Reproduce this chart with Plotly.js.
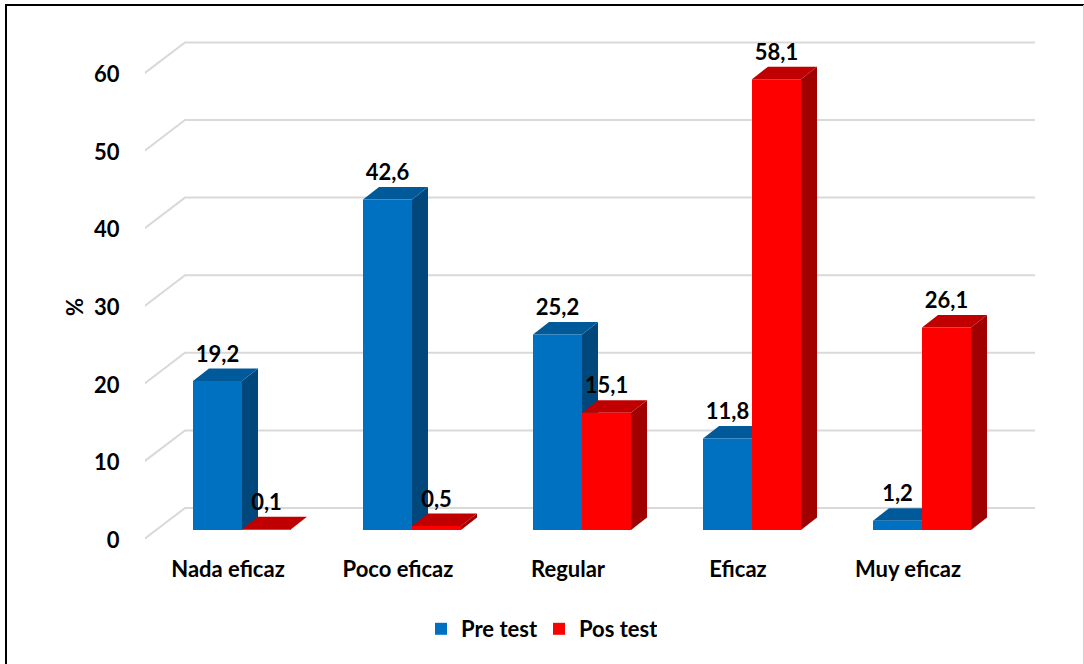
<!DOCTYPE html>
<html><head><meta charset="utf-8">
<script src="https://cdn.plot.ly/plotly-3.0.1.min.js"></script>
<style>html,body{margin:0;padding:0;background:#fff}#c{width:1084px;height:664px}</style>
</head><body><div id="c"></div>
<script>
var categories = ["Nada eficaz","Poco eficaz","Regular","Eficaz","Muy eficaz"];
var preTest = [19.2,42.6,25.2,11.8,1.2];
var posTest = [0.1,0.5,15.1,58.1,26.1];
var axisTicks = [0,10,20,30,40,50,60];
var fmt = function(v){return v.toFixed(1).replace('.',',');};

var W=1084,H=664, L=145,R=1035,T=20,B=545;
var pxPerCat=170, pxPerUnit=7.76, originX=242, originY=530;
var xr=[(L-originX)/pxPerCat,(R-originX)/pxPerCat];
var yr=[(originY-B)/pxPerUnit,(originY-T)/pxPerUnit];
var barW=49/pxPerCat, dx=16/pxPerCat, dy=12.5/pxPerUnit;
var floorFront=-10/pxPerUnit, wallBack=22/pxPerUnit, wallDx=40/pxPerCat;
var idx=categories.map(function(_,i){return i;});
var font='Lato, Carlito, "Open Sans", sans-serif';
var boldFont={family:font,size:22,color:'#000',weight:700};

var traces=[];
axisTicks.forEach(function(t){
  traces.push({type:'scatter',mode:'lines',x:[xr[0]-2/pxPerCat,xr[0]+wallDx,xr[1]],
    y:[t+floorFront,t+wallBack,t+wallBack],line:{color:'#d9d9d9',width:2},
    showlegend:false,hoverinfo:'skip',cliponaxis:false});
});
function faces(vals,xl,sideColor,topColor){
  vals.forEach(function(v,i){
    var a=i+xl,b=a+barW;
    traces.push({type:'scatter',mode:'lines',fill:'toself',fillcolor:sideColor,line:{width:0,color:sideColor},
      x:[b,b+dx,b+dx,b,b],y:[0,dy,v+dy,v,0],showlegend:false,hoverinfo:'skip'});
    traces.push({type:'scatter',mode:'lines',fill:'toself',fillcolor:topColor,line:{width:0,color:topColor},
      x:[a,a+dx,b+dx,b,a],y:[v,v+dy,v+dy,v,v],showlegend:false,hoverinfo:'skip'});
  });
}
faces(preTest,-barW,'#00487c','#005a9a');
faces(posTest,0,'#a00000','#c00000');
traces.push({type:'bar',name:'Pre test',x:idx,y:preTest,xaxis:'x2',yaxis:'y2',marker:{color:'#0070c0'},hoverinfo:'skip'});
traces.push({type:'bar',name:'Pos test',x:idx,y:posTest,xaxis:'x2',yaxis:'y2',marker:{color:'#ff0000'},hoverinfo:'skip'});
var lift=25/pxPerUnit;
traces.push({type:'scatter',mode:'text',xaxis:'x2',yaxis:'y2',showlegend:false,hoverinfo:'skip',cliponaxis:false,
  x:idx.map(function(i){return i-barW/2;}).concat(idx.map(function(i){return i+barW/2;})),
  y:preTest.concat(posTest).map(function(v){return v+lift;}),
  text:preTest.concat(posTest).map(fmt),textposition:'middle center',
  textfont:boldFont});

var layout={
  width:W,height:H,paper_bgcolor:'#fff',plot_bgcolor:'rgba(0,0,0,0)',
  margin:{l:L,r:W-R,t:T,b:H-B,pad:0},
  barmode:'group',bargap:1-2*barW,bargroupgap:0,
  font:{family:font,color:'#000'},
  xaxis:{range:xr,type:'linear',showgrid:false,zeroline:false,showline:false,
    tickmode:'array',tickvals:idx.map(function(i){return i-14/pxPerCat;}),ticktext:categories,
    ticks:'outside',ticklen:5,tickcolor:'rgba(0,0,0,0)',tickfont:boldFont},
  yaxis:{range:yr,showgrid:false,zeroline:false,showline:false,
    tickmode:'array',tickvals:axisTicks.map(function(t){return t+floorFront;}),ticktext:axisTicks.map(String),
    ticks:'outside',ticklen:20,tickcolor:'rgba(0,0,0,0)',tickfont:boldFont},
  xaxis2:{range:xr,overlaying:'x',visible:false,type:'linear'},
  yaxis2:{range:yr,overlaying:'y',visible:false},
  annotations:[{text:'%',textangle:-90,xref:'paper',yref:'paper',x:(74-L)/(R-L),y:(B-307)/(B-T),
    xanchor:'center',yanchor:'middle',showarrow:false,font:boldFont}],
  legend:{orientation:'h',x:(421-L)/(R-L),xref:'paper',xanchor:'left',y:(B-629)/(B-T),yanchor:'middle',
    entrywidth:73,entrywidthmode:'pixels',
    font:boldFont,itemclick:false,bgcolor:'rgba(0,0,0,0)'},
  shapes:[
    {type:'line',xref:'paper',yref:'paper',layer:'below',x0:(6-L)/(R-L),x1:(6-L)/(R-L),y0:(B-664)/(B-T),y1:(B-5)/(B-T),line:{color:'#000',width:2}},
    {type:'line',xref:'paper',yref:'paper',layer:'below',x0:(5-L)/(R-L),x1:(1084-L)/(R-L),y0:(B-5)/(B-T),y1:(B-5)/(B-T),line:{color:'#000',width:2}},
    {type:'line',xref:'paper',yref:'paper',layer:'below',x0:(1083.5-L)/(R-L),x1:(1083.5-L)/(R-L),y0:(B-664)/(B-T),y1:(B-5)/(B-T),line:{color:'#d0d0d0',width:1}}
  ]
};
Plotly.newPlot('c',traces,layout,{displayModeBar:false,staticPlot:true});
</script></body></html>
